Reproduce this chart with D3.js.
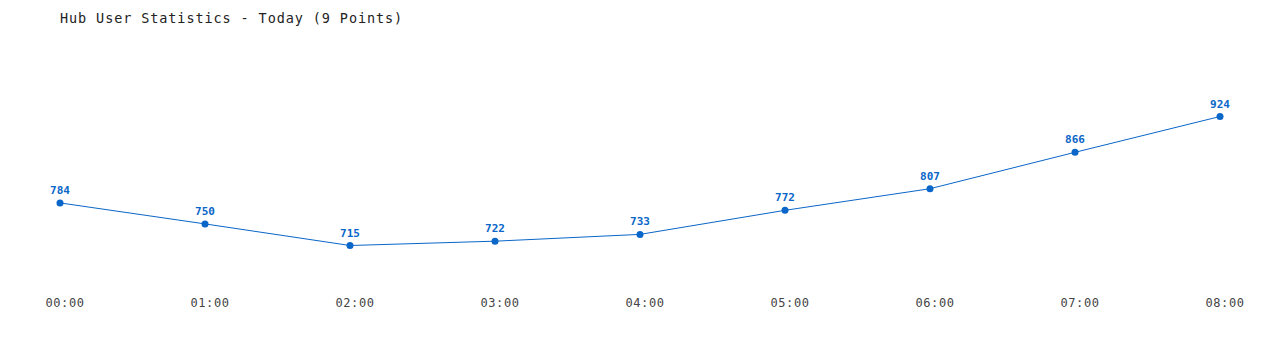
<!DOCTYPE html>
<html>
<head>
<meta charset="utf-8">
<script src="https://cdn.jsdelivr.net/npm/d3@7"></script>
<style>
  body { margin: 0; background: #fff; }
  text { font-family: "DejaVu Sans Mono", "Liberation Mono", monospace; }
</style>
</head>
<body>
<svg id="chart" width="1280" height="350"></svg>
<script>
const hours = ['00:00', '01:00', '02:00', '03:00', '04:00', '05:00', '06:00', '07:00', '08:00'];
const users = [784, 750, 715, 722, 733, 772, 807, 866, 924];
const title = 'Hub User Statistics - Today (9 Points)';

const svg = d3.select('#chart');
const color = '#0a66c8';

const x = d3.scalePoint().domain(hours).range([60, 1220]);
const y = d3.scaleLinear().domain([715, 924]).range([245.5, 116.5]);

svg.append('text')
  .attr('x', 60)
  .attr('y', 23)
  .attr('font-size', 13.5)
  .attr('letter-spacing', 0.9)
  .attr('fill', '#222')
  .text(title);

svg.append('g')
  .selectAll('text')
  .data(hours)
  .join('text')
  .attr('x', d => x(d) + 5)
  .attr('y', 307)
  .attr('text-anchor', 'middle')
  .attr('font-size', 12)
  .attr('letter-spacing', 0.6)
  .attr('fill', '#444')
  .text(d => d);

const line = d3.line()
  .x((d, i) => x(hours[i]))
  .y(d => y(d));

svg.append('path')
  .datum(users)
  .attr('fill', 'none')
  .attr('stroke', color)
  .attr('stroke-width', 1)
  .attr('d', line);

svg.append('g')
  .selectAll('circle')
  .data(users)
  .join('circle')
  .attr('cx', (d, i) => x(hours[i]))
  .attr('cy', d => y(d))
  .attr('r', 3.5)
  .attr('fill', color);

svg.append('g')
  .selectAll('text')
  .data(users)
  .join('text')
  .attr('x', (d, i) => x(hours[i]))
  .attr('y', d => y(d) - 9)
  .attr('text-anchor', 'middle')
  .attr('font-size', 11)
  .attr('font-weight', 'bold')
  .attr('fill', color)
  .text(d => d);
</script>
</body>
</html>
